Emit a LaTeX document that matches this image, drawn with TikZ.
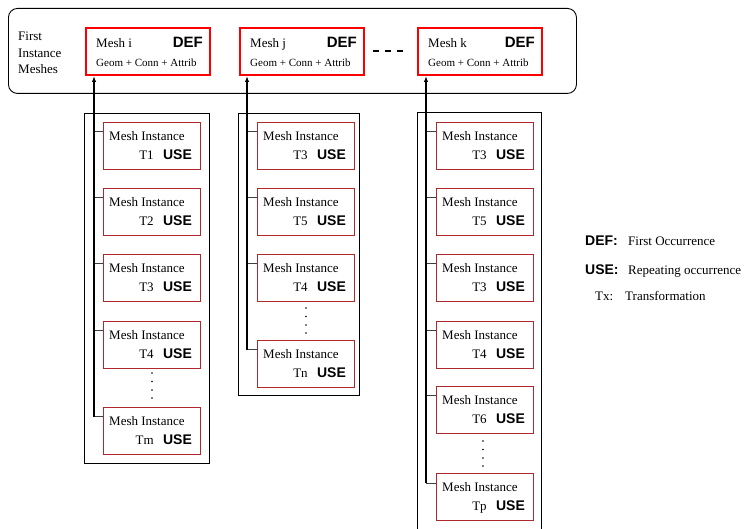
\documentclass[tikz,border=0pt]{standalone}
\usepackage{fontspec}
\setmainfont{Liberation Serif}
\setsansfont{Liberation Sans}
\usetikzlibrary{arrows.meta}
\definecolor{instred}{RGB}{175,40,45}
\tikzset{
  outerbox/.style={draw=black, line width=0.9pt, rounded corners=9pt},
  container/.style={draw=black, line width=0.9pt},
  defbox/.style={draw=red, line width=2pt, minimum width=124pt, minimum height=47pt, inner sep=0pt},
  inst/.style={draw=instred, line width=1.1pt, minimum width=97pt, minimum height=47pt, inner sep=0pt},
  txt/.style={font=\fontsize{13}{15}\selectfont, inner sep=0pt},
  small/.style={font=\fontsize{11}{13}\selectfont, inner sep=0pt},
  kw/.style={font=\fontsize{14}{16}\sffamily\bfseries\selectfont, inner sep=0pt},
  kwbig/.style={font=\fontsize{15}{17}\sffamily\bfseries\selectfont, inner sep=0pt},
  branch/.style={draw=black!75, line width=1pt},
  trunk/.style={draw=black, line width=1.6pt, -{Latex[length=6pt,width=4.5pt]}},
  dotmark/.style={fill=black},
}
\newcommand\meshinst[4]{%
  \node[inst, anchor=north west] (#1) at (#2,#3) {};
  \node[txt, anchor=base west] (#1-a) at ([shift={(6,19)}]#1.north west) {Mesh Instance};
  \node[kw, anchor=base east] (#1-u) at ([shift={(-9,38)}]#1.north east) {USE};
  \node[txt, anchor=base east] (#1-t) at ([xshift=-9pt]#1-u.base west) {#4};
  \coordinate (#1-j) at ([shift={(0,10)}]#1.north west);
}
\newcommand\defmesh[4]{%
  \node[defbox, anchor=north west] (#1) at (#2,#3) {};
  \node[txt, anchor=base west] (#1-n) at ([shift={(11,20.5)}]#1.north west) {#4};
  \node[kwbig, anchor=base east] (#1-d) at ([shift={(-8,20.5)}]#1.north east) {DEF};
  \node[small, anchor=base west] (#1-g) at ([shift={(11,39.5)}]#1.north west) {Geom + Conn + Attrib};
}
\begin{document}
\begin{tikzpicture}[x=1pt,y=-1pt]
\useasboundingbox (0,0) rectangle (745,529);

% top frame
\node[outerbox, anchor=north west, minimum width=568pt, minimum height=85pt, inner sep=0pt] (top) at (8,8) {};
\node[txt, anchor=base west] (fim1) at (18,41) {First};
\node[txt, anchor=base west] (fim2) at (18,57.5) {Instance};
\node[txt, anchor=base west] (fim3) at (18,74) {Meshes};

\defmesh{mi}{85}{27}{Mesh i}
\defmesh{mj}{239}{27}{Mesh j}
\defmesh{mk}{417}{27}{Mesh k}
\coordinate (d1) at (373,51);
\coordinate (d2) at (403,51);
\draw[line width=2.2pt, dash pattern=on 6pt off 6pt] (d1) -- (d2);

% containers
\node[container, anchor=north west, minimum width=125pt, minimum height=350pt, inner sep=0pt] (col1) at (84,113) {};
\node[container, anchor=north west, minimum width=121pt, minimum height=282pt, inner sep=0pt] (col2) at (238,113) {};
\node[container, anchor=north west, minimum width=124pt, minimum height=430pt, inner sep=0pt] (col3) at (417,112) {};

% column 1
\meshinst{a1}{103}{122}{T1}
\meshinst{a2}{103}{188}{T2}
\meshinst{a3}{103}{254}{T3}
\meshinst{a4}{103}{321}{T4}
\meshinst{a5}{103}{407}{Tm}
% column 2
\meshinst{b1}{257}{122}{T3}
\meshinst{b2}{257}{188}{T5}
\meshinst{b3}{257}{254}{T4}
\meshinst{b4}{257}{340}{Tn}
% column 3
\meshinst{c1}{436}{122}{T3}
\meshinst{c2}{436}{188}{T5}
\meshinst{c3}{436}{254}{T3}
\meshinst{c4}{436}{321}{T4}
\meshinst{c5}{436}{386}{T6}
\meshinst{c6}{436}{473}{Tp}

% trunks
\coordinate (ta) at (94,0);
\coordinate (tb) at (247,0);
\coordinate (tc) at (426,0);
\foreach \n in {a1,a2,a3,a4,a5} \draw[branch] (\n-j) -- (ta |- \n-j);
\foreach \n in {b1,b2,b3,b4} \draw[branch] (\n-j) -- (tb |- \n-j);
\foreach \n in {c1,c2,c3,c4,c5,c6} \draw[branch] (\n-j) -- (tc |- \n-j);
\draw[trunk] (ta |- a5-j) -- (ta |- mi.south);
\draw[trunk] (tb |- b4-j) -- (tb |- mj.south);
\draw[trunk] (tc |- c6-j) -- (tc |- mk.south);

% vertical dots
\foreach \y in {373,381.5,390,398} \fill[dotmark] (152,\y) circle (0.9pt);
\foreach \y in {308,316.5,325,333} \fill[dotmark] (306,\y) circle (0.9pt);
\foreach \y in {441,449.5,458,466} \fill[dotmark] (483,\y) circle (0.9pt);

% legend
\node[kw, anchor=base west] (ldef) at (585,246) {DEF:};
\node[txt, anchor=base west] (ldeft) at (628,246) {First Occurrence};
\node[kw, anchor=base west] (luse) at (585,275) {USE:};
\node[txt, anchor=base west] (luset) at (628,275) {Repeating occurrence};
\node[txt, anchor=base west] (ltx) at (595,301) {Tx:};
\node[txt, anchor=base west] (ltxt) at (625,301) {Transformation};
\end{tikzpicture}
\end{document}
